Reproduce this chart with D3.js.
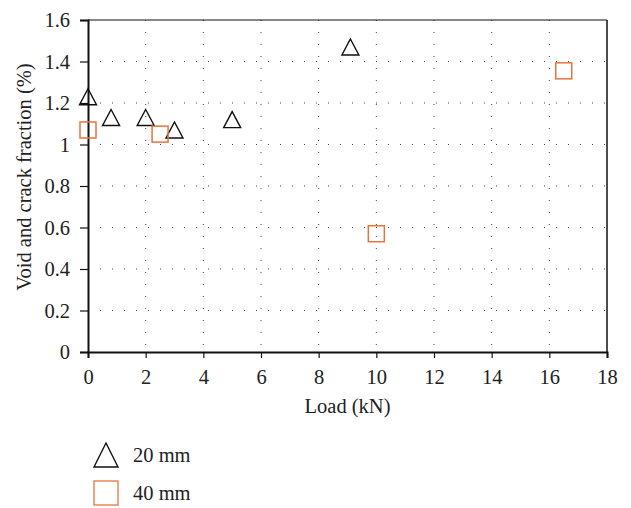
<!DOCTYPE html>
<html lang="en">
<head>
    <meta charset="UTF-8">
    <style>
        body { margin: 0; background: #fff; }
        svg, svg text { font-family: "Liberation Serif", "Times New Roman", "DejaVu Serif", serif !important; }
        svg text { fill: #222; }
    </style>
    <script src="https://d3js.org/d3.v7.min.js"></script>
</head>
<body>
    <div id="chart"></div>
    <script>
        // data
        var series = ["20 mm", "40 mm"];
        var load20 = [0, 0.8, 2, 3, 5, 9.1];
        var frac20 = [1.23, 1.13, 1.13, 1.07, 1.12, 1.47];
        var load40 = [0, 2.5, 10, 16.5];
        var frac40 = [1.07, 1.05, 0.57, 1.355];
        var xTicks = [0, 2, 4, 6, 8, 10, 12, 14, 16, 18];
        var yTicks = [0, 0.2, 0.4, 0.6, 0.8, 1, 1.2, 1.4, 1.6];

        var W = 631, H = 508;
        var margin = { top: 20, right: 24, bottom: 156, left: 88 };
        var width = W - margin.left - margin.right;
        var height = H - margin.top - margin.bottom;
        var orange = "#e8743b";
        var fs = 20.5;
        var serif = "'Liberation Serif', 'Times New Roman', serif";

        var svg = d3.select("#chart").append("svg")
            .attr("width", W).attr("height", H)
            .style("font-family", serif);
        var g = svg.append("g")
            .attr("transform", "translate(" + margin.left + "," + margin.top + ")");

        var x = d3.scaleLinear().domain([0, 18]).range([0, width]);
        var y = d3.scaleLinear().domain([0, 1.6]).range([height, 0]);

        // triangle with given width/height, centred on its bounding box
        function triPath(w, h) {
            return "M0," + (-h / 2) + "L" + (w / 2) + "," + (h / 2) + "L" + (-w / 2) + "," + (h / 2) + "Z";
        }

        // dotted grid
        g.selectAll(".vgrid")
            .data(xTicks.filter(d => d > 0 && d < 18))
            .enter().append("line")
            .attr("x1", d => x(d)).attr("x2", d => x(d))
            .attr("y1", 0).attr("y2", height)
            .attr("stroke", "#444").attr("stroke-width", 1)
            .attr("stroke-dasharray", "1,11");
        g.selectAll(".hgrid")
            .data(yTicks.filter(d => d > 0 && d < 1.6))
            .enter().append("line")
            .attr("x1", 0).attr("x2", width)
            .attr("y1", d => y(d)).attr("y2", d => y(d))
            .attr("stroke", "#444").attr("stroke-width", 1)
            .attr("stroke-dasharray", "1,11");

        // frame
        g.append("line").attr("x1", 0).attr("x2", width).attr("y1", 0).attr("y2", 0)
            .attr("stroke", "#111").attr("stroke-width", 1.2);
        g.append("line").attr("x1", width).attr("x2", width).attr("y1", 0).attr("y2", height)
            .attr("stroke", "#111").attr("stroke-width", 1.5);

        // axes
        var xAxis = g.append("g")
            .attr("transform", "translate(0," + height + ")")
            .call(d3.axisBottom(x).tickValues(xTicks).tickSize(6).tickPadding(11).tickFormat(d3.format("d")));
        var yAxis = g.append("g")
            .call(d3.axisLeft(y).tickValues(yTicks).tickSize(8).tickPadding(10).tickFormat(d => d3.format("")(d)));
        [xAxis, yAxis].forEach(a => {
            a.attr("font-size", null).attr("font-family", null);
            a.select(".domain").attr("stroke", "#111").attr("stroke-width", 2);
            a.selectAll(".tick line").attr("stroke", "#111").attr("stroke-width", 1.2);
            a.selectAll(".tick text").attr("font-size", fs).attr("fill", "#222")
                .style("font-family", serif);
        });

        // axis titles
        g.append("text")
            .attr("x", width / 2).attr("y", height + 61)
            .attr("text-anchor", "middle").attr("font-size", fs)
            .style("font-family", serif)
            .text("Load (kN)");
        g.append("text")
            .attr("transform", "rotate(-90)")
            .attr("x", -(177 - margin.top)).attr("y", 31 - margin.left)
            .attr("text-anchor", "middle").attr("font-size", fs)
            .style("font-family", serif)
            .text("Void and crack fraction (%)");

        // 20 mm triangles
        g.selectAll(".tri")
            .data(load20.map((d, i) => [d, frac20[i]]))
            .enter().append("path")
            .attr("d", triPath(17, 16))
            .attr("transform", d => "translate(" + x(d[0]) + "," + y(d[1]) + ")")
            .attr("fill", "none").attr("stroke", "#111").attr("stroke-width", 1.4);

        // 40 mm squares
        var s = 16;
        g.selectAll(".sq")
            .data(load40.map((d, i) => [d, frac40[i]]))
            .enter().append("rect")
            .attr("x", d => x(d[0]) - s / 2).attr("y", d => y(d[1]) - s / 2)
            .attr("width", s).attr("height", s)
            .attr("fill", "none").attr("stroke", orange).attr("stroke-width", 1.5);

        // legend
        var leg = svg.append("g");
        series.forEach((name, i) => {
            var cy = 455 + i * 38;
            if (i === 0) {
                leg.append("path").attr("d", triPath(24, 24))
                    .attr("transform", "translate(106," + cy + ")")
                    .attr("fill", "none").attr("stroke", "#111").attr("stroke-width", 1.4);
            } else {
                leg.append("rect").attr("x", 106 - 12).attr("y", cy - 12)
                    .attr("width", 24).attr("height", 24)
                    .attr("fill", "none").attr("stroke", orange).attr("stroke-width", 1.3);
            }
            leg.append("text").attr("x", 133).attr("y", cy + 7)
                .attr("font-size", fs).style("font-family", serif).text(name);
        });
    </script>
</body>
</html>
